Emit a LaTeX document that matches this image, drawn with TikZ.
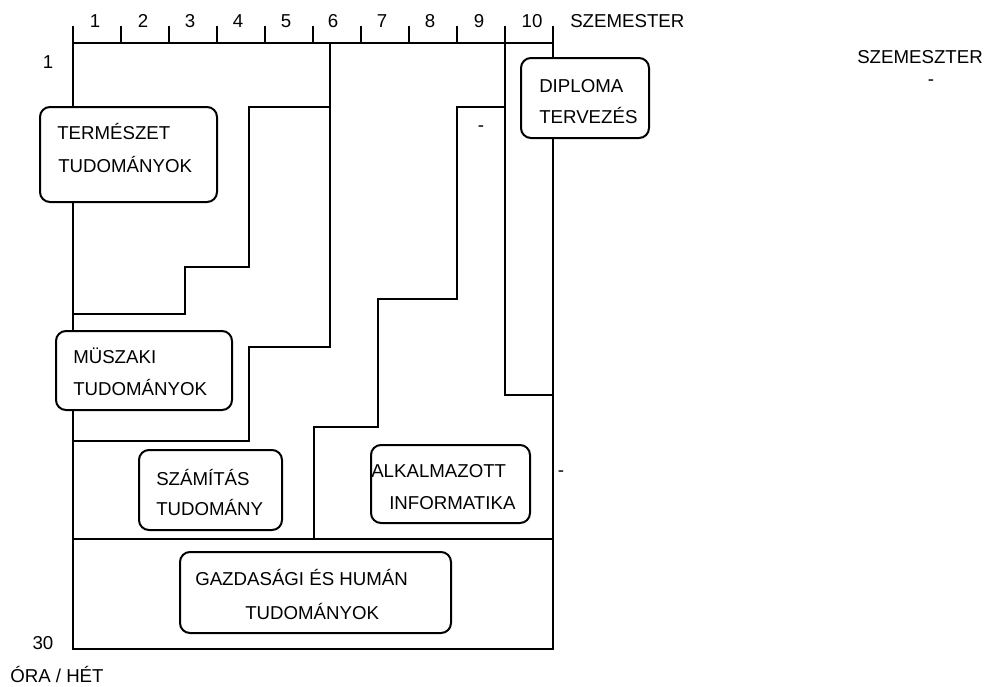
\documentclass[tikz,border=0pt]{standalone}
\usepackage{fontspec}
\setmainfont{Liberation Sans}
\usetikzlibrary{fit}
\begin{document}
\begin{tikzpicture}[x=0.75pt,y=-0.75pt,
  ln/.style={line width=1.5pt, line cap=rect},
  box/.style={draw, line width=1.5pt, rounded corners=7.5pt, fill=white, inner sep=0pt},
  lbl/.style={inner sep=0pt, anchor=base west, font=\fontsize{14pt}{16pt}\selectfont},
  num/.style={inner sep=0pt, anchor=base, font=\fontsize{14pt}{16pt}\selectfont}]
\useasboundingbox (0,0) rectangle (986,686);
% frame and axis
\draw[ln] (73,27) -- (73,649) -- (553,649) -- (553,27);
\draw[ln] (73,43) -- (553,43);
\foreach \i in {1,...,9} {\draw[ln] (73+48*\i,27) -- (73+48*\i,43);}
% dividing lines
\draw[ln] (330,43) -- (330,347) -- (249,347) -- (249,441) -- (73,441);
\draw[ln] (330,107) -- (249,107) -- (249,267) -- (185,267) -- (185,314) -- (73,314);
\draw[ln] (505,43) -- (505,395) -- (553,395);
\draw[ln] (505,107) -- (457,107) -- (457,299) -- (378,299) -- (378,427) -- (314,427) -- (314,539);
\draw[ln] (73,539) -- (553,539);
% axis labels
\foreach \x/\t [count=\k] in {95/1,143/2,190/3,238/4,286/5,333/6,382/7,430/8,479/9,532/10}
  {\node[num] (s\k) at (\x,27) {\t};}
\node[lbl] (szem) at (570,27) {SZEMESTER};
\node[num] (h1) at (48,68) {1};
\node[num] (h30) at (43,649) {30};
\node[lbl] (ora) at (10,682) {ÓRA / HÉT};
\node[lbl] (szemsz) at (857,63) {SZEMESZTER};
\node[num] (d1) at (931,85) {-};
\node[num] (d2) at (481,131) {-};
\node[num] (d3) at (561,476) {-};
% boxes
\node[box, fit={(40,107) (217,202)}] (termb) {};
\node[lbl] (term1) at (57,139) {TERMÉSZET};
\node[lbl] (term2) at (58,172) {TUDOMÁNYOK};
\node[box, fit={(521,58) (649,138)}] (dipb) {};
\node[lbl] (dip1) at (539,92) {DIPLOMA};
\node[lbl] (dip2) at (539,123) {TERVEZÉS};
\node[box, fit={(56,331) (232,410)}] (muszb) {};
\node[lbl] (musz1) at (73,363) {MÜSZAKI};
\node[lbl] (musz2) at (73,395) {TUDOMÁNYOK};
\node[box, fit={(139,450) (282,530)}] (szamb) {};
\node[lbl] (szam1) at (156,485) {SZÁMÍTÁS};
\node[lbl] (szam2) at (156,515) {TUDOMÁNY};
\node[box, fit={(371,445) (530,523)}] (alkb) {};
\node[lbl] (alk1) at (371,477) {ALKALMAZOTT};
\node[lbl] (alk2) at (389,509) {INFORMATIKA};
\node[box, fit={(180,552) (451,633)}] (gazb) {};
\node[lbl] (gaz1) at (195,585) {GAZDASÁGI ÉS HUMÁN};
\node[lbl] (gaz2) at (245,619) {TUDOMÁNYOK};
\end{tikzpicture}
\end{document}
